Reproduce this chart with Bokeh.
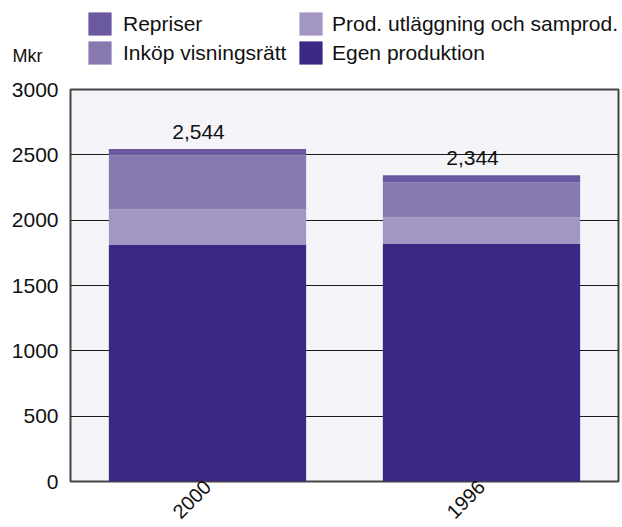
import math
from bokeh.plotting import figure
from bokeh.layouts import column
from bokeh.models import (FactorRange, Range1d, Legend, LegendItem, SingleIntervalTicker,
                          FixedTicker, ColumnDataSource)
from bokeh.core.properties import value
from bokeh.embed import file_html
from bokeh.resources import INLINE

# ---- data ----
years = ["2000", "1996"]
egen_produktion = [1810, 1817]
prod_utlaggning = [274, 206]
inkop_visningsratt = [413, 268]
repriser = [47, 53]

series_keys = ["egen", "prod", "inkop", "repr"]
series_names = ["Egen produktion", "Prod. utläggning och samprod.", "Inköp visningsrätt", "Repriser"]
colors = ["#3B2884", "#A396C5", "#8879B1", "#6A59A1"]
unit_label = "Mkr"

totals = [a + b + c + d for a, b, c, d in zip(egen_produktion, prod_utlaggning, inkop_visningsratt, repriser)]
total_labels = [f"{t:,}" for t in totals]

FONT = "Liberation Sans"
FS = "21px"
INK = "#111111"

HEADER_H = 77

source = ColumnDataSource(dict(
    year=years,
    egen=egen_produktion,
    prod=prod_utlaggning,
    inkop=inkop_visningsratt,
    repr=repriser,
    total=totals,
    total_label=total_labels,
))

# ---------- main chart ----------
p = figure(
    title=None,
    x_range=FactorRange(*years, range_padding=0),
    y_range=Range1d(0, 3000),
    width=622, height=527 - HEADER_H,
    output_backend="svg", toolbar_location=None,
    min_border_left=70, min_border_right=4, min_border_top=12, min_border_bottom=46,
    background_fill_color="#F5F4F9",
    border_fill_color="white",
)

p.vbar_stack(series_keys, x="year", width=0.72, source=source,
             color=colors, line_color=None)

p.text(x="year", y="total", text="total_label", source=source,
       text_font=value(FONT), text_font_size=FS, text_color=INK,
       text_align="center", text_baseline="alphabetic", x_offset=-9, y_offset=-17)

p.yaxis.ticker = SingleIntervalTicker(interval=500)
for ax in (p.xaxis[0], p.yaxis[0]):
    ax.axis_line_color = None
    ax.major_tick_line_color = None
    ax.minor_tick_line_color = None
    ax.major_tick_in = 0
    ax.major_tick_out = 0
    ax.major_label_text_font = FONT
    ax.major_label_text_color = INK
p.yaxis.major_label_text_font_size = FS
p.xaxis.major_label_text_font_size = "20px"
p.yaxis.major_label_standoff = 8
p.xaxis.major_label_orientation = math.pi / 4
p.xaxis.major_label_standoff = 2

p.xgrid.grid_line_color = None
p.ygrid.grid_line_color = "#1A1A1A"
p.ygrid.grid_line_width = 1.2
p.outline_line_color = "#444444"
p.outline_line_width = 2

# ---------- header with legend and unit ----------
h = figure(
    title=None,
    x_range=FactorRange(*years), y_range=Range1d(0, HEADER_H),
    width=622, height=HEADER_H,
    output_backend="svg", toolbar_location=None,
    x_axis_type=None,
    min_border_left=0, min_border_right=4, min_border_top=0, min_border_bottom=0,
    background_fill_color="white", border_fill_color="white",
    outline_line_color=None,
)
h.xgrid.visible = False
h.ygrid.visible = False
# the unit text is shown as the header's single y-axis label
unit_pos = HEADER_H - 55
h.yaxis.ticker = FixedTicker(ticks=[unit_pos])
h.yaxis.major_label_overrides = {unit_pos: unit_label}
h.yaxis.axis_line_color = None
h.yaxis.major_tick_line_color = None
h.yaxis.minor_tick_line_color = None
h.yaxis.major_tick_in = 0
h.yaxis.major_tick_out = 0
h.yaxis.major_label_standoff = 28
h.yaxis.major_label_text_font = FONT
h.yaxis.major_label_text_font_size = "18px"
h.yaxis.major_label_text_color = INK

# legend swatches reuse the same series, drawn on a range that keeps them out of view
h.extra_y_ranges = {"off": Range1d(10000, 20000)}
hr = h.vbar_stack(series_keys, x="year", width=0.72, source=source,
                  color=colors, line_color=None, y_range_name="off")
r_egen, r_prod, r_inkop, r_repr = hr

leg_kw = dict(glyph_width=29, glyph_height=29, label_height=29, spacing=0,
              padding=0, margin=0,
              border_line_alpha=0, background_fill_alpha=0,
              label_text_font=FONT, label_text_font_size=FS, label_text_color=INK)
leg1 = Legend(items=[LegendItem(label=series_names[3], renderers=[r_repr]),
                     LegendItem(label=series_names[2], renderers=[r_inkop])],
              location=(15, HEADER_H - 67), label_standoff=9, **leg_kw)
leg2 = Legend(items=[LegendItem(label=series_names[1], renderers=[r_prod]),
                     LegendItem(label=series_names[0], renderers=[r_egen])],
              location=(226, HEADER_H - 67), label_standoff=7, **leg_kw)
h.add_layout(leg1, "center")
h.add_layout(leg2, "center")

layout = column(h, p, spacing=0)
open("out.html", "w").write(file_html(layout, INLINE))
